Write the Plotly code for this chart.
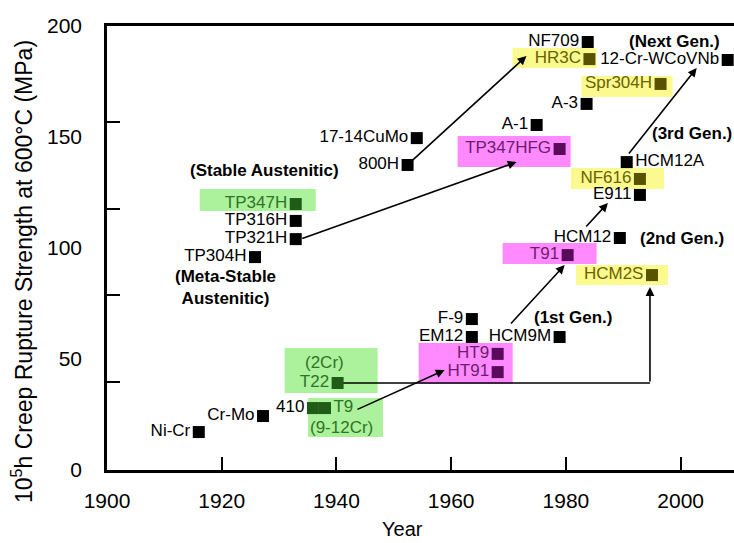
import plotly.graph_objects as go

# ---------------- data ----------------
materials = ["Ni-Cr", "Cr-Mo", "410", "T9", "T22", "TP304H", "TP321H", "TP316H",
             "TP347H", "800H", "17-14CuMo", "F-9", "EM12", "HT9", "HT91", "HCM9M",
             "TP347HFG", "A-1", "T91", "A-3", "NF709", "HR3C", "HCM12", "HCM12A",
             "NF616", "E911", "HCM2S", "Spr304H", "12-Cr-WCoVNb"]
years = [1916.0, 1927.2, 1935.9, 1938.0, 1940.2, 1925.8, 1932.9, 1932.9,
         1932.9, 1952.4, 1954.0, 1963.6, 1963.6, 1968.1, 1968.1, 1978.9,
         1978.9, 1974.9, 1980.3, 1983.6, 1983.8, 1984.1, 1989.4, 1990.6,
         1992.9, 1992.9, 1995.0, 1996.5, 2008.2]
strength = [17.1, 24.3, 27.9, 27.9, 39.2, 95.9, 104.0, 112.2,
            119.8, 137.4, 149.5, 68.0, 59.9, 52.3, 44.1, 59.9,
            144.6, 155.4, 96.8, 164.9, 192.8, 185.1, 104.5, 138.7,
            131.1, 123.9, 87.8, 173.9, 184.7]
group = ["none", "none", "green", "green", "green", "none", "none", "none",
         "green", "none", "none", "none", "none", "magenta", "magenta", "none",
         "magenta", "none", "magenta", "none", "none", "yellow", "none", "none",
         "yellow", "none", "yellow", "yellow", "none"]
label_right = {"T9", "HCM12A"}
label_outside_box = {"410"}

x_ticks = [1900, 1920, 1940, 1960, 1980, 2000]
y_ticks = [0, 50, 100, 150, 200]
y_tick_marks = [39.6, 78.8, 117.6, 156.8]

group_notes = [("(Stable Austenitic)", 1927.5, 135.1),
               ("(Meta-Stable<br>Austenitic)", 1920.6, 82.0),
               ("(1st Gen.)", 1981.2, 68.9),
               ("(2nd Gen.)", 2000.2, 104.5),
               ("(3rd Gen.)", 2001.9, 151.8),
               ("(Next Gen.)", 1999.0, 192.8)]

# arrows: from material -> to material, (tail dx,dy px), (head dx,dy px)
arrows = [("800H", "HR3C", (3, -3), (-63, -3)),
          ("TP321H", "TP347HFG", (5, 0), (-43, 13)),
          ("T9", "HT91", (31, 2), (-53, -2)),
          ("HCM9M", "T91", (-50, -12), (-3, 10)),
          ("HCM12", "E911", (-35, -10), (-32, 8)),
          ("HCM12A", "12-Cr-WCoVNb", (1, -7), (-31, 8))]

# highlight boxes: members, colour, pads in px (left, right, top, bottom)
boxes = [(["TP347H"], "green", (96, 20, 15, 7)),
         (["HR3C"], "yellow", (77, 7, 11, 9)),
         (["Spr304H"], "yellow", (79, 12, 8, 13)),
         (["TP347HFG"], "magenta", (102, 11, 13, 18)),
         (["NF616"], "yellow", (69, 24, 11, 10)),
         (["T91"], "magenta", (65, 29, 12, 9)),
         (["HCM2S"], "yellow", (76, 16, 10, 10)),
         (["HT9", "HT91"], "magenta", (79, 15, 11, 12)),
         (["T22"], "green", (53, 40, 35, 10)),
         (["410", "T9"], "green", (5, 58, 10, 29))]

# ---------------- style ----------------
FONT = "Liberation Sans, Arial, Helvetica, sans-serif"
box_fill = {"green": "#acf29c", "yellow": "#fafa8e", "magenta": "#ff8aff"}
text_col = {"none": "black", "green": "#2f7326", "yellow": "#6b6200", "magenta": "#6e1c6e"}
mark_col = {"none": "black", "green": "#1f5c17", "yellow": "#595200", "magenta": "#5a0a5a"}

W, H = 734, 543
ML, MR, MT, MB = 107, 0, 26, 73
XR = [1900, 2009.3]
YR = [0, 200]
PX_YR = (W - ML - MR) / (XR[1] - XR[0])
PX_MPA = (H - MT - MB) / (YR[1] - YR[0])

pos = {m: (x, y) for m, x, y in zip(materials, years, strength)}


def off(name, d):
    x, y = pos[name]
    return x + d[0] / PX_YR, y - d[1] / PX_MPA


fig = go.Figure()

# boxes
shapes = []
for members, col, (pl, pr, pt, pb) in boxes:
    xs = [pos[m][0] for m in members]
    ys = [pos[m][1] for m in members]
    shapes.append(dict(type="rect", xref="x", yref="y", layer="below",
                       x0=min(xs) - pl / PX_YR, x1=max(xs) + pr / PX_YR,
                       y0=min(ys) - pb / PX_MPA, y1=max(ys) + pt / PX_MPA,
                       fillcolor=box_fill[col], line=dict(width=0)))

# elbow connector T22 -> HCM2S
t22x, t22y = pos["T22"]
h2x, h2y = pos["HCM2S"]
corner_x = h2x - 2 / PX_YR
fig.add_trace(go.Scatter(x=[t22x + 4 / PX_YR, corner_x], y=[t22y, t22y], mode="lines",
                         line=dict(color="black", width=1.6), hoverinfo="skip", showlegend=False))

tcols = ["black" if m in label_outside_box else text_col[g] for m, g in zip(materials, group)]
fig.add_trace(go.Scatter(
    x=years, y=strength, mode="markers+text", text=materials,
    textposition=["middle right" if m in label_right else "middle left" for m in materials],
    textfont=dict(family=FONT, size=17, color=tcols),
    marker=dict(symbol="square", size=12, color=[mark_col[g] for g in group], line=dict(width=0)),
    showlegend=False, cliponaxis=False))

annotations = []
for src, dst, dt, dh in arrows:
    ax, ay = off(src, dt)
    hx, hy = off(dst, dh)
    annotations.append(dict(x=hx, y=hy, ax=ax, ay=ay, xref="x", yref="y", axref="x", ayref="y",
                            text="", showarrow=True, arrowhead=2, arrowsize=1.1, arrowwidth=1.6,
                            arrowcolor="black", standoff=0, startstandoff=0))
annotations.append(dict(x=corner_x, y=h2y - 12 / PX_MPA, ax=corner_x, ay=t22y,
                        xref="x", yref="y", axref="x", ayref="y", text="", showarrow=True,
                        arrowhead=2, arrowsize=1.1, arrowwidth=1.6, arrowcolor="black",
                        standoff=0, startstandoff=0))

for txt, x, y in group_notes:
    annotations.append(dict(x=x, y=y, xref="x", yref="y", text="<b>" + txt + "</b>", showarrow=False,
                            font=dict(family=FONT, size=17, color="black"), align="center"))

# composition notes in green boxes
annotations.append(dict(x=t22x, y=t22y, xref="x", yref="y", text="(2Cr)", showarrow=False,
                        xshift=-13, yshift=20, font=dict(family=FONT, size=17, color=text_col["green"])))
t9x, t9y = pos["T9"]
annotations.append(dict(x=t9x, y=t9y, xref="x", yref="y", text="(9-12Cr)", showarrow=False,
                        xshift=17, yshift=-19, font=dict(family=FONT, size=17, color=text_col["green"])))

# axis titles
annotations.append(dict(xref="paper", yref="paper", x=(22 - ML) / (W - ML - MR),
                        y=(H - MB - 272) / (H - MT - MB), text="10<sup>5</sup>h Creep Rupture Strength at 600°C (MPa)",
                        textangle=-90, showarrow=False, font=dict(family=FONT, size=23, color="black"),
                        xanchor="center", yanchor="middle"))
annotations.append(dict(xref="paper", yref="paper", x=(402 - ML) / (W - ML - MR),
                        y=(H - MB - 529) / (H - MT - MB), text="Year", showarrow=False,
                        font=dict(family=FONT, size=20, color="black"), xanchor="center", yanchor="middle"))

fig.update_layout(
    width=W, height=H, margin=dict(l=ML, r=MR, t=MT, b=MB),
    paper_bgcolor="white", plot_bgcolor="white",
    shapes=shapes, annotations=annotations,
    font=dict(family=FONT, color="black"),
    xaxis=dict(range=XR, tickvals=x_ticks, ticks="inside", ticklen=13, tickwidth=2, tickcolor="black",
               showline=True, linewidth=2.5, linecolor="black", mirror=True, showgrid=False, zeroline=False,
               tickfont=dict(family=FONT, size=21, color="black"), ticklabelstandoff=10),
    yaxis=dict(range=YR, tickvals=y_ticks, ticks="", showline=True, linewidth=2.5, linecolor="black",
               showgrid=False, zeroline=False, tickfont=dict(family=FONT, size=21, color="black"),
               ticklabelstandoff=18,
               minor=dict(tickvals=y_tick_marks, ticks="inside", ticklen=13, tickwidth=2, tickcolor="black")),
)

fig.write_html("out.html")
